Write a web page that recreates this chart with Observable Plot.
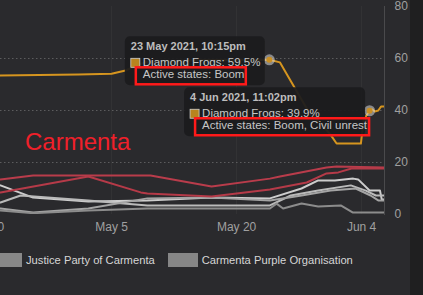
<!DOCTYPE html>
<html><head><meta charset="utf-8">
<script src="https://cdn.jsdelivr.net/npm/d3@7"></script>
<script src="https://cdn.jsdelivr.net/npm/@observablehq/plot@0.6"></script>
<style>
html,body{margin:0;padding:0;background:#2a2a2d;overflow:hidden}
body{width:423px;height:295px;position:relative;font-family:"Liberation Sans",Arial,sans-serif}
#chart{position:absolute;left:0;top:0}
#strip{position:absolute;left:410px;top:0;width:13px;height:295px;background:#1f1f20}
#legend{position:absolute;top:253px;left:-8px;display:flex;align-items:center;font-size:11.2px;color:#d6d6d6;white-space:nowrap}
#legend .sw{width:30px;height:14px;background:#878787;margin-right:4px}
#legend .it{display:flex;align-items:center;margin-right:13px}
#note{position:absolute;left:25px;top:130px;font-size:24px;line-height:24px;color:#f0202a}
</style></head><body>
<div id="chart"></div>
<div id="note">Carmenta</div>
<div id="legend"></div>
<div id="strip"></div>
<script>
// ---- data ----
const xTicks = ["2021-04-20", "2021-05-05", "2021-05-20", "2021-06-04"];
const yTicks = [0, 20, 40, 60, 80];
const yGrid = [20, 40, 60];

const frogsDates = ["2021-04-20T00:00Z","2021-05-01T00:00Z","2021-05-05T00:00Z","2021-05-06T16:00Z","2021-05-09T00:00Z","2021-05-15T00:00Z","2021-05-23T22:15Z","2021-05-25T05:00Z","2021-05-28T10:00Z","2021-05-31T05:00Z","2021-06-01T00:00Z","2021-06-03T22:00Z","2021-06-04T06:00Z","2021-06-04T23:02Z","2021-06-05T07:00Z","2021-06-05T14:00Z","2021-06-06T00:00Z","2021-06-06T08:00Z","2021-06-06T18:00Z"];
const frogsValues = [53.4, 53.8, 54.1, 55.4, 58.6, 59.3, 59.5, 58.5, 40.8, 31, 27.3, 27.3, 36.5, 39.9, 40.4, 39.6, 40.0, 41.5, 41.5];

const red1Dates = ["2021-04-20T00:00Z","2021-04-21T16:00Z","2021-04-25T14:00Z","2021-05-09T16:00Z","2021-05-17T00:00Z","2021-05-24T00:00Z","2021-05-25T05:00Z","2021-05-30T19:00Z","2021-06-01T00:00Z","2021-06-06T18:00Z"];
const red1Values = [13, 13.5, 15, 15, 10.8, 13.8, 14.6, 18.1, 18.5, 18.1];

const red2Dates = ["2021-04-20T00:00Z","2021-04-21T16:00Z","2021-05-02T05:00Z","2021-05-08T12:00Z","2021-05-09T07:00Z","2021-05-17T00:00Z","2021-05-24T00:00Z","2021-05-28T10:00Z","2021-05-30T19:00Z","2021-06-01T05:00Z","2021-06-02T19:00Z","2021-06-06T18:00Z"];
const red2Values = [8, 8.5, 14.6, 8.5, 8.1, 6.9, 9.6, 12.3, 15.8, 16.2, 17.7, 17.7];

const greyADates = ["2021-04-20T00:00Z","2021-04-21T16:00Z","2021-04-25T14:00Z","2021-05-02T05:00Z","2021-05-09T07:00Z","2021-05-17T00:00Z","2021-05-24T00:00Z","2021-05-27T19:00Z","2021-05-29T19:00Z","2021-05-31T19:00Z","2021-06-03T00:00Z","2021-06-03T14:00Z","2021-06-04T23:00Z","2021-06-06T05:00Z","2021-06-06T10:00Z","2021-06-06T18:00Z"];
const greyAValues = [12, 11.2, 6.5, 5, 5.4, 6.5, 6.2, 10, 13.1, 13.1, 13.8, 13.5, 9.2, 9.2, 5.8, 5.8];

const greyBDates = ["2021-04-20T00:00Z","2021-04-21T16:00Z","2021-04-24T02:00Z","2021-05-02T05:00Z","2021-05-09T07:00Z","2021-05-17T00:00Z","2021-05-24T00:00Z","2021-05-26T12:00Z","2021-05-29T19:00Z","2021-06-02T17:00Z","2021-06-04T12:00Z","2021-06-05T17:00Z","2021-06-06T18:00Z"];
const greyBValues = [4, 4.6, 7.3, 5.4, 3.5, 3.5, 3.5, 7.3, 9.2, 11.2, 9.2, 7.3, 7.3];

const greyCDates = ["2021-04-20T00:00Z","2021-04-21T16:00Z","2021-04-25T14:00Z","2021-05-02T05:00Z","2021-05-09T07:00Z","2021-05-17T00:00Z","2021-05-24T00:00Z","2021-05-27T19:00Z","2021-05-31T07:00Z","2021-06-03T07:00Z","2021-06-05T02:00Z","2021-06-06T00:00Z","2021-06-06T18:00Z"];
const greyCValues = [2, 2.3, 0.8, 2.3, 6.2, 6.5, 5.4, 7.3, 9.2, 10, 7.3, 5.4, 5.4];

const greyDDates = ["2021-04-20T00:00Z","2021-04-21T16:00Z","2021-04-25T14:00Z","2021-05-02T05:00Z","2021-05-09T07:00Z","2021-05-17T00:00Z","2021-05-24T00:00Z","2021-05-24T19:00Z","2021-05-25T14:00Z","2021-05-27T19:00Z","2021-05-29T19:00Z","2021-06-01T12:00Z","2021-06-02T22:00Z","2021-06-06T18:00Z"];
const greyDValues = [1.5, 1.5, 0.5, 1.5, 2.3, 2.3, 2.3, 4.2, 2.3, 4.2, 3.1, 3.5, 0.8, 0.8];

const legendNames = ["Justice Party of Carmenta", "Carmenta Purple Organisation"];
const legendColors = ["#888888", "#868686"];

const tipDates = ["2021-05-23T22:15Z", "2021-06-04T23:02Z"];
const tipTitles = ["23 May 2021, 10:15pm", "4 Jun 2021, 11:02pm"];
const tipSeries = ["Diamond Frogs", "Diamond Frogs"];
const tipValues = [59.5, 39.9];
const tipStates = ["Active states: Boom", "Active states: Boom, Civil unrest"];

// ---- build ----
const rows = (name, dates, values) => dates.map((d, i) => ({name, date: new Date(d), value: values[i]}));
const frogs = rows("Diamond Frogs", frogsDates, frogsValues);
const greys = [
  {data: rows("A", greyADates, greyAValues), color: "#cdcdcd"},
  {data: rows("B", greyBDates, greyBValues), color: "#bababa"},
  {data: rows("C", greyCDates, greyCValues), color: "#a4a4a4"},
  {data: rows("D", greyDDates, greyDValues), color: "#8c8c8c"}
];
const reds = [
  {data: rows("R1", red1Dates, red1Values), color: "#b93c4b"},
  {data: rows("R2", red2Dates, red2Values), color: "#b53a48"}
];
const tips = tipDates.map((d, i) => ({date: new Date(d), value: tipValues[i]}));

const chart = Plot.plot({
  width: 423, height: 240,
  marginLeft: 0, marginRight: 39, marginTop: 6, marginBottom: 26,
  style: {background: "transparent", color: "#a0a0a0", fontSize: "12px", fontFamily: "'Liberation Sans', Arial, sans-serif"},
  x: {type: "utc", domain: [new Date("2021-04-21T16:00Z"), new Date("2021-06-06T18:00Z")], label: null},
  y: {domain: [0, 80], label: null},
  marks: [
    Plot.gridX(xTicks.map(d => new Date(d)), {stroke: "#333336", strokeOpacity: 1}),
    Plot.gridY(yGrid, {stroke: "#5c5c5e", strokeOpacity: 1, strokeDasharray: "1.5 2.5"}),
    Plot.frame({anchor: "right", stroke: "#4a4a4c"}),
    Plot.axisY(yTicks, {anchor: "right", tickSize: 0, tickPadding: 10, fontSize: 12, label: null}),
    Plot.axisX(xTicks.map(d => new Date(d)), {tickSize: 0, tickPadding: 8, fontSize: 12, label: null, tickFormat: d3.utcFormat("%b %-d")}),
    ...greys.map(g => Plot.line(g.data, {x: "date", y: "value", stroke: g.color, strokeWidth: 2, clip: true})),
    ...reds.map(r => Plot.line(r.data, {x: "date", y: "value", stroke: r.color, strokeWidth: 2, clip: true})),
    Plot.line(frogs, {x: "date", y: "value", stroke: "#d6951f", strokeWidth: 2, clip: true}),
    Plot.dot(tips, {x: "date", y: "value", r: 5.5, fill: "#d8d8d8", fillOpacity: 0.55}),
    Plot.dot(tips, {x: "date", y: "value", r: 3, fill: "#c98f24"})
  ]
});
document.getElementById("chart").appendChild(chart);

// tooltips anchored through the plot's scales
const sx = chart.scale("x"), sy = chart.scale("y");
const svg = d3.select(chart);
const tipWidths = [140, 181];
const redWidths = [110, 174];
tips.forEach((t, i) => {
  const px = sx.apply(t.date), py = sy.apply(t.value);
  const w = tipWidths[i];
  const g = svg.append("g").attr("transform", `translate(${px - 4 - w},${py - 23})`)
    .attr("text-anchor", "start")
    .style("font-family", "'Liberation Sans', Arial, sans-serif");
  g.append("rect").attr("width", w).attr("height", 49).attr("rx", 5)
    .attr("fill", "#1c1c1e").attr("fill-opacity", 0.94);
  g.append("text").attr("x", 6).attr("y", 14).attr("fill", "#bdbdbd")
    .attr("font-size", 11).attr("font-weight", "bold").text(tipTitles[i]);
  g.append("rect").attr("x", 6).attr("y", 22).attr("width", 9).attr("height", 9)
    .attr("fill", "#b8841f").attr("stroke", "#cfcfcf").attr("stroke-width", 0.8);
  g.append("text").attr("x", 18).attr("y", 30).attr("fill", "#c6c6c6")
    .attr("font-size", 11.5).text(`${tipSeries[i]}: ${tipValues[i].toFixed(1)}%`);
  g.append("text").attr("x", 18).attr("y", 42).attr("fill", "#c6c6c6")
    .attr("font-size", 11.5).text(tipStates[i]);
  g.append("rect").attr("x", 11).attr("y", 31).attr("width", redWidths[i]).attr("height", 17)
    .attr("fill", "none").attr("stroke", "#ff1a1a").attr("stroke-width", 2.5);
});

// legend
const legend = d3.select("#legend");
legendNames.forEach((n, i) => {
  const it = legend.append("div").attr("class", "it");
  it.append("div").attr("class", "sw").style("background", legendColors[i]);
  it.append("span").text(n);
});
</script>
</body></html>
